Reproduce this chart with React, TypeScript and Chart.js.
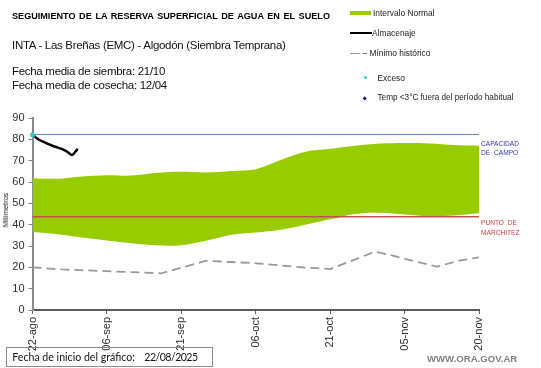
import React, { useEffect, useRef } from "react";
import { Chart, registerables } from "chart.js";

Chart.register(...registerables);

// ---- data ----
const tickDays = [0, 15, 30, 45, 60, 75, 90];
const tickLabels = ["22-ago", "06-sep", "21-sep", "06-oct", "21-oct", "05-nov", "20-nov"];

const bandDays = [0, 5, 10, 15, 20, 25, 30, 35, 40, 45, 50, 55, 60, 65, 70, 75, 80, 85, 90];
const bandUpper = [61.8, 61.5, 62.6, 63.2, 63.0, 64.3, 64.8, 64.5, 65.2, 66.0, 70.3, 74.2, 75.6, 77.0, 78.0, 78.3, 78.1, 77.3, 77.0];
const bandLower = [36.7, 35.5, 34.0, 32.6, 31.3, 30.3, 30.4, 32.5, 35.2, 36.3, 37.6, 40.0, 42.5, 45.0, 45.6, 44.8, 44.0, 44.3, 45.3];

const minDays = [0, 6, 15, 26, 35, 40, 45, 50, 55, 60, 69, 73, 78, 81.5, 86, 90];
const minValues = [20, 19, 18.2, 17.2, 23.1, 22.5, 21.9, 20.9, 19.9, 19.2, 27.3, 25.3, 22.3, 20.3, 23.1, 24.7];

const almDays = [0, 1, 2, 3, 4, 5, 6, 7, 8, 9];
const almValues = [82.2, 80.3, 79.0, 78.0, 77.0, 76.2, 75.4, 74.2, 72.6, 75.2];

const excesoDays = [0];
const excesoValues = [82.2];

const capacidadCampo = 82.3;
const puntoMarchitez = 43.7;
const xMin = 0;
const xMax = 90;
const yMin = 0;
const yMax = 90;

const FONT = "'Liberation Sans', Arial, sans-serif";
const FOOT_FONT = "Lato, 'Open Sans', sans-serif";

const pts = (xs: number[], ys: number[]) => xs.map((x, i) => ({ x, y: ys[i] }));

function T(props: {
  x: number;
  cy: number;
  size: number;
  text: string;
  bold?: boolean;
  color?: string;
  family?: string;
  ws?: number;
  ls?: number;
}) {
  return (
    <div
      style={{
        position: "absolute",
        left: props.x,
        top: props.cy - 10,
        height: 20,
        lineHeight: "20px",
        fontSize: props.size,
        fontWeight: props.bold ? "bold" : "normal",
        color: props.color || "#000",
        fontFamily: props.family || FONT,
        whiteSpace: "pre",
        wordSpacing: props.ws ? props.ws + "px" : undefined,
        letterSpacing: props.ls ? props.ls + "px" : undefined,
      }}
    >
      {props.text}
    </div>
  );
}

export default function App() {
  const ref = useRef<HTMLCanvasElement | null>(null);

  useEffect(() => {
    if (!ref.current) return;
    const chart = new Chart(ref.current, {
      type: "line",
      data: {
        datasets: [
          {
            label: "lower",
            data: pts(bandDays, bandLower),
            borderWidth: 0,
            pointRadius: 0,
            borderColor: "rgba(0,0,0,0)",
            tension: 0.35,
            fill: false,
            order: 6,
          },
          {
            label: "Intervalo Normal",
            data: pts(bandDays, bandUpper),
            borderWidth: 0,
            pointRadius: 0,
            borderColor: "rgba(0,0,0,0)",
            backgroundColor: "#99CC00",
            tension: 0.35,
            fill: 0,
            order: 5,
          },
          {
            label: "Mínimo histórico",
            data: pts(minDays, minValues),
            borderColor: "#9a9a9a",
            borderWidth: 1.8,
            borderDash: [9, 5],
            pointRadius: 0,
            tension: 0,
            fill: false,
            order: 4,
          },
          {
            label: "Capacidad de campo",
            data: [
              { x: xMin, y: capacidadCampo },
              { x: xMax, y: capacidadCampo },
            ],
            borderColor: "#5B86C8",
            borderWidth: 1,
            pointRadius: 0,
            fill: false,
            order: 3,
          },
          {
            label: "Punto de marchitez",
            data: [
              { x: xMin, y: puntoMarchitez },
              { x: xMax, y: puntoMarchitez },
            ],
            borderColor: "#C0504D",
            borderWidth: 1.5,
            pointRadius: 0,
            fill: false,
            order: 2,
          },
          {
            label: "Almacenaje",
            data: pts(almDays, almValues),
            borderColor: "#000000",
            borderWidth: 2.5,
            borderJoinStyle: "round",
            borderCapStyle: "round",
            pointRadius: 0,
            tension: 0.2,
            fill: false,
            clip: false,
            order: 1,
          },
          {
            label: "Exceso",
            data: pts(excesoDays, excesoValues),
            showLine: false,
            pointRadius: 2.5,
            pointBackgroundColor: "#33CCCC",
            pointBorderColor: "#33CCCC",
            pointBorderWidth: 0,
            clip: false,
            order: 0,
          },
        ],
      },
      options: {
        responsive: false,
        animation: false,
        devicePixelRatio: 1,
        events: [],
        layout: { padding: { left: 0, top: 118, right: 62, bottom: 0 } },
        plugins: {
          legend: { display: false },
          title: { display: false },
          tooltip: { enabled: false },
        },
        scales: {
          x: {
            type: "linear",
            min: xMin,
            max: xMax,
            afterFit: (s: any) => {
              s.height = 58;
            },
            afterBuildTicks: (s: any) => {
              s.ticks = tickDays.map((v) => ({ value: v }));
            },
            ticks: {
              autoSkip: false,
              maxRotation: 90,
              minRotation: 90,
              padding: 3,
              color: "#303030",
              font: { family: FONT, size: 11 },
              callback: (v: any) => {
                const i = tickDays.indexOf(Number(v));
                return i >= 0 ? tickLabels[i] : "";
              },
            },
            grid: {
              drawOnChartArea: false,
              drawTicks: true,
              tickLength: 4,
              color: "#606060",
            },
            border: { color: "#5a5a5a", width: 2 },
          },
          y: {
            type: "linear",
            min: yMin,
            max: yMax,
            afterFit: (s: any) => {
              s.width = 32.5;
            },
            ticks: {
              stepSize: 10,
              padding: 4,
              color: "#303030",
              font: { family: FONT, size: 11 },
            },
            grid: {
              drawOnChartArea: false,
              drawTicks: true,
              tickLength: 4,
              color: "#808080",
            },
            border: { color: "#8a8a8a", width: 2 },
          },
        },
      },
    } as any);
    return () => chart.destroy();
  }, []);

  return (
    <div
      style={{
        position: "absolute",
        left: 0,
        top: 0,
        width: 541,
        height: 368,
        background: "#fff",
        overflow: "hidden",
      }}
    >
      <canvas ref={ref} width={541} height={368} style={{ position: "absolute", left: 0, top: 0 }} />

      <T x={12} cy={15.5} size={9.1} bold ws={1.1} text="SEGUIMIENTO DE LA RESERVA SUPERFICIAL DE AGUA EN EL SUELO" />
      <T x={12} cy={45} size={11.5} ls={-0.3} color="#111" text="INTA - Las Breñas (EMC) - Algodón (Siembra Temprana)" />
      <T x={12} cy={71} size={11.5} ls={-0.3} color="#111" text="Fecha media de siembra: 21/10" />
      <T x={12} cy={84.5} size={11.5} ls={-0.3} color="#111" text="Fecha media de cosecha: 12/04" />

      {/* legend */}
      <div style={{ position: "absolute", left: 350, top: 11, width: 21, height: 4, background: "#99CC00" }} />
      <T x={373} cy={12.7} size={8.4} color="#222" text="Intervalo Normal" />
      <div style={{ position: "absolute", left: 350, top: 31.5, width: 22, height: 2, background: "#000" }} />
      <T x={372} cy={32.7} size={8.4} color="#222" text="Almacenaje" />
      <div style={{ position: "absolute", left: 350, top: 52.5, width: 10, height: 1.5, background: "#9a9a9a" }} />
      <T x={362.5} cy={53.3} size={8.4} color="#222" text="– Mínimo histórico" />
      <div style={{ position: "absolute", left: 363.5, top: 76.2, width: 3, height: 3, borderRadius: 2, background: "#33CCCC" }} />
      <T x={377.5} cy={77.7} size={8.4} color="#222" text="Exceso" />
      <div
        style={{
          position: "absolute",
          left: 363.3,
          top: 96.6,
          width: 3.4,
          height: 3.4,
          background: "#1a1a8c",
          transform: "rotate(45deg)",
        }}
      />
      <T x={377.5} cy={98.3} size={8.2} color="#222" text="Temp <3°C fuera del período habitual" />

      {/* annotations */}
      <T x={481} cy={144.3} size={6.6} color="#3535A8" text="CAPACIDAD" />
      <T x={481} cy={153.3} size={6.6} color="#3535A8" ws={2} text="DE CAMPO" />
      <T x={481} cy={223.3} size={6.6} color="#C83C3C" ws={2} text="PUNTO DE" />
      <T x={481} cy={232.7} size={6.6} color="#C83C3C" text="MARCHITEZ" />

      {/* y axis title */}
      <div
        style={{
          position: "absolute",
          left: 6,
          top: 210,
          transform: "translate(-50%, -50%) rotate(-90deg)",
          fontFamily: FONT,
          fontSize: 7.5,
          color: "#222",
          whiteSpace: "nowrap",
          lineHeight: "10px",
        }}
      >
        Milímetros
      </div>

      {/* footer */}
      <div
        style={{
          position: "absolute",
          left: 5.5,
          top: 347,
          width: 207.5,
          height: 20,
          border: "1px solid #8c8c8c",
          boxSizing: "border-box",
        }}
      />
      <T x={12.3} cy={357} size={10.6} family={FOOT_FONT} color="#111" text="Fecha de inicio del gráfico:" />
      <T x={144.3} cy={357} size={10.6} ls={-0.55} family={FOOT_FONT} color="#111" text="22/08/2025" />
      <T x={427} cy={359.3} size={9.6} bold color="#7f7f7f" text="WWW.ORA.GOV.AR" />
    </div>
  );
}
